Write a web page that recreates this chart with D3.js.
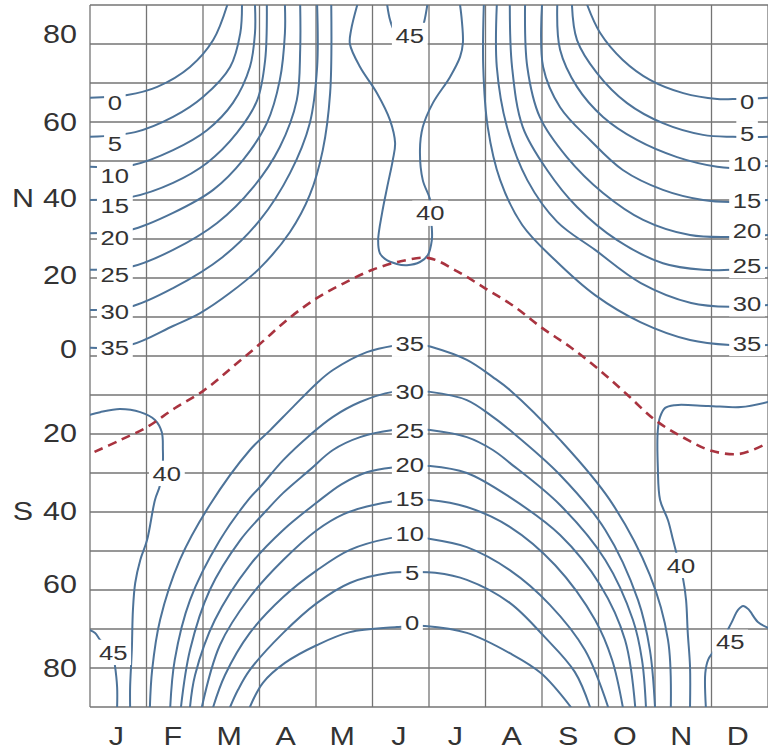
<!DOCTYPE html>
<html><head><meta charset="utf-8">
<script src="https://cdn.jsdelivr.net/npm/d3@7"></script>
<style>
html,body{margin:0;padding:0;background:#fff;}
svg{display:block;}
text{font-family:"Liberation Sans",Arial,Helvetica,sans-serif;fill:#333;}
</style></head><body>
<svg id="chart" width="768" height="752"></svg>
<script>
// ---------- data ----------
const months = ["J","F","M","A","M","J","J","A","S","O","N","D"];
const latTickLabels = ["80","60","40","20","0","20","40","60","80"];
const latTickPos = [82.6,59.9,40.5,20.8,1.8,-19.7,-39.7,-58.5,-80];   // where each label sits
const hemiLabels = ["N","S"];
const hemiLats = [40.5,-39.7];

// subsolar latitude (dashed line): month position -> latitude
const sunMonth = [0.08,0.5,1,1.5,2,2.5,3,3.5,4,4.5,5,5.5,6,6.5,7,7.5,8,8.5,9,9.5,10,10.5,11,11.5,12];
const sunLat   = [-24.6,-21.8,-18.3,-13.4,-9.0,-3.1,3.0,9.4,14.7,18.7,22.1,24.3,25.1,21.7,17.3,12.8,7.2,2.3,-3.4,-9.8,-16.4,-20.9,-24.3,-25.1,-22.3];

// contour lines, [month position, latitude]
const cN0L  = [[0,66.2],[0.66,66.9],[1.19,69.0],[1.77,74.1],[2.18,81.0],[2.43,90]];
const cN5L  = [[0,56.2],[0.80,57.4],[1.47,61.3],[2.0,66.4],[2.48,74.1],[2.66,82.8],[2.69,90]];
const cN10L = [[0,48.5],[0.76,49.0],[1.47,52.8],[2.07,57.9],[2.53,64.9],[2.83,74.1],[2.92,82.8],[2.92,90]];
const cN15L = [[0,40.0],[0.74,40.8],[1.47,44.4],[2.07,49.5],[2.60,57.2],[2.96,65.6],[3.10,75.9],[3.13,90]];
const cN20L = [[0,31.5],[0.71,32.3],[1.47,36.7],[2.18,42.6],[2.71,50.3],[3.13,59.7],[3.36,70.8],[3.45,82.8],[3.45,90]];
const cN25L = [[0,22.1],[0.71,22.8],[1.47,27.2],[2.25,34.1],[2.89,43.3],[3.36,53.6],[3.66,65.6],[3.72,78.5],[3.72,90]];
const cN30L = [[0,11.8],[0.71,12.6],[1.47,17.4],[2.35,25.4],[3.01,34.9],[3.54,46.9],[3.89,59.7],[4.02,74.1],[4.02,90]];
const cN35L = [[0,2.1],[0.71,2.8],[1.47,7.7],[1.95,11.0],[2.48,16.2],[3.01,22.6],[3.54,31.8],[3.89,41.3],[4.12,52.8],[4.25,67.4],[4.27,90]];

const cN0R  = [[8.80,90],[9.03,82.8],[9.43,75.9],[9.91,70.8],[10.50,67.4],[11.10,65.9],[11.38,65.9],[12,66.2]];
const cN5R  = [[8.53,90],[8.62,81.0],[8.97,72.6],[9.50,64.9],[10.14,59.7],[10.85,56.7],[11.38,56.2],[12,56.2]];
const cN10R = [[8.27,90],[8.32,78.5],[8.62,69.0],[9.08,61.3],[9.68,55.4],[10.39,51.0],[11.10,48.5],[11.33,48.2],[12,48.7]];
const cN15R = [[8.0,90],[8.02,74.1],[8.32,63.8],[8.85,55.4],[9.43,47.7],[10.14,42.6],[10.85,40.0],[11.33,39.5],[12,40.0]];
const cN20R = [[7.70,90],[7.74,74.1],[7.96,61.3],[8.44,51.0],[9.08,41.8],[9.79,34.9],[10.62,31.0],[11.33,30.5],[12,31.0]];
const cN25R = [[7.43,90],[7.47,74.1],[7.66,58.7],[8.09,47.7],[8.62,38.2],[9.33,29.7],[10.14,23.8],[10.85,22.1],[11.33,22.1],[12,22.6]];
const cN30R = [[7.20,90],[7.20,74.1],[7.38,58.7],[7.74,45.1],[8.27,34.4],[8.94,27.2],[9.75,18.7],[10.64,13.6],[11.33,12.6],[12,13.1]];
const cN35R = [[6.97,90],[6.96,74.1],[7.04,58.7],[7.26,45.1],[7.65,33.6],[8.23,24.6],[8.94,15.6],[9.74,8.7],[10.62,4.1],[11.33,2.8],[12,2.8]];

const cN40 = [[4.73,90],[4.62,83.5],[4.60,80.0],[4.78,74.1],[5.08,67.4],[5.31,60.5],[5.40,54.6],[5.36,50.3],[5.26,43.3],[5.17,36.7],[5.10,29.7],[5.13,26.4],[5.22,24.9],[5.43,23.6],[5.61,23.3],[5.84,24.1],[5.98,25.9],[6.05,29.7],[6.05,32.8],[6.02,36.7],[6.02,40.0],[5.89,45.1],[5.84,52.8],[5.89,58.7],[6.07,64.9],[6.37,71.5],[6.55,76.7],[6.60,80.3],[6.58,86.2],[6.55,90]];
const cN45 = [[5.26,90],[5.31,86.2],[5.38,83.6],[5.52,81.8],[5.66,81.3],[5.81,82.3],[5.89,84.4],[5.93,86.7],[5.97,90]];

const cS35 = [[1.06,-90],[1.10,-80.5],[1.24,-67.7],[1.59,-52.3],[2.12,-38.2],[2.83,-24.1],[3.19,-19.0],[3.59,-13.1],[4.02,-6.9],[4.30,-3.6],[4.90,1.0],[5.43,2.8],[5.74,3.3],[6.05,2.3],[6.67,-1.0],[7.13,-5.4],[7.43,-8.7],[8.32,-21.5],[9.20,-36.9],[9.91,-56.2],[10.23,-72.8],[10.28,-90]];
const cS30 = [[1.42,-90],[1.50,-77.9],[1.77,-62.6],[2.30,-47.2],[2.83,-36.4],[3.01,-33.6],[3.42,-26.7],[3.89,-20.3],[4.30,-15.6],[4.78,-11.8],[5.36,-9.2],[5.70,-9.0],[6.02,-9.2],[6.67,-11.3],[7.13,-15.6],[7.43,-19.0],[8.32,-30.5],[9.12,-44.6],[9.70,-62.6],[9.91,-75.4],[10.0,-90]];
const cS25 = [[1.61,-90],[1.77,-75.4],[2.12,-60.0],[2.66,-47.2],[3.13,-39.5],[3.42,-35.1],[3.89,-29.2],[4.30,-24.1],[4.78,-20.8],[5.36,-19.0],[5.70,-18.7],[6.02,-19.0],[6.67,-20.8],[7.13,-24.1],[7.43,-27.4],[8.32,-38.2],[9.12,-52.3],[9.61,-67.7],[9.77,-77.9],[9.84,-90]];
const cS20 = [[1.77,-90],[1.86,-81.8],[2.21,-67.7],[2.83,-53.6],[3.42,-44.6],[4.02,-37.5],[4.45,-32.9],[4.90,-29.8],[5.40,-28.5],[5.70,-28.2],[6.02,-28.2],[6.67,-30.0],[7.43,-36.2],[8.32,-45.9],[9.03,-58.7],[9.47,-72.8],[9.65,-90]];
const cS15 = [[1.98,-90],[2.30,-74.1],[2.83,-61.8],[3.42,-52.3],[4.02,-44.6],[4.48,-40.6],[4.90,-38.6],[5.40,-37.2],[5.70,-36.9],[6.02,-36.9],[6.67,-38.7],[7.43,-43.8],[8.23,-53.6],[8.94,-67.7],[9.24,-77.9],[9.43,-90]];
const cS10 = [[2.18,-90],[2.39,-81.8],[2.83,-71.0],[3.42,-61.8],[4.02,-54.9],[4.60,-49.7],[5.31,-46.7],[5.63,-46.2],[5.93,-46.7],[6.67,-49.0],[7.43,-54.9],[8.14,-63.8],[8.76,-75.4],[9.17,-90]];
const cS5  = [[2.48,-90],[2.62,-85.6],[2.83,-80.5],[3.42,-71.0],[4.02,-63.3],[4.60,-58.2],[5.31,-55.6],[5.70,-55.4],[6.11,-55.6],[6.67,-57.4],[7.43,-63.3],[8.05,-72.1],[8.58,-81.0],[8.85,-90]];
const cS0  = [[2.83,-90],[3.06,-83.8],[3.45,-78.7],[4.02,-74.1],[4.60,-70.8],[5.43,-69.5],[5.70,-69.2],[5.93,-69.2],[6.67,-71.0],[7.43,-76.2],[7.98,-81.3],[8.51,-90]];

const cS40L = [[0,-15.1],[0.18,-14.4],[0.53,-13.6],[0.89,-14.4],[1.15,-16.4],[1.27,-19.5],[1.29,-24.1],[1.29,-27.2],[1.24,-33.1],[1.15,-36.9],[1.01,-47.2],[0.89,-52.3],[0.80,-58.2],[0.76,-65.1],[0.74,-75.4],[0.71,-84.9],[0.71,-90]];
const cS40R = [[12,-11.8],[11.52,-13.1],[10.94,-12.8],[10.35,-12.6],[10.18,-13.3],[10.09,-15.6],[10.05,-19.0],[10.05,-28.5],[10.09,-36.9],[10.23,-42.1],[10.32,-47.2],[10.41,-52.3],[10.50,-57.4],[10.55,-62.6],[10.58,-71.0],[10.62,-79.7],[10.62,-90]];
const cS45L = [[0,-70.3],[0.09,-71.0],[0.18,-72.8],[0.32,-74.9],[0.41,-76.7],[0.44,-79.2],[0.48,-84.9],[0.48,-90]];
const cS45R = [[10.90,-90],[10.89,-81.3],[10.94,-77.9],[11.03,-75.9],[11.19,-72.8],[11.35,-68.5],[11.47,-65.1],[11.56,-64.1],[11.65,-64.9],[11.82,-68.2],[12,-69.7]];

// contour labels: text, month position, latitude
const labelText  = ["0","5","10","15","20","25","30","35",
                    "0","5","10","15","20","25","30","35",
                    "35","30","25","20","15","10","5","0",
                    "40","45","40","40","45","45"];
const labelMonth = [0.44,0.44,0.44,0.44,0.44,0.44,0.44,0.44,
                    11.63,11.63,11.63,11.63,11.63,11.63,11.63,11.63,
                    5.66,5.66,5.66,5.66,5.66,5.66,5.70,5.70,
                    6.02,5.66,1.36,10.46,0.41,11.33];
const labelLat   = [64.9,54.4,46.4,38.7,30.3,20.8,11.3,2.1,
                    65.2,57.1,49.4,40.0,32.3,23.3,13.5,3.3,
                    3.1,-9.2,-19.0,-27.7,-36.4,-45.6,-55.6,-68.2,
                    36.7,82.3,-30.0,-53.6,-75.9,-73.3];

const contours = [cN0L,cN5L,cN10L,cN15L,cN20L,cN25L,cN30L,cN35L,
                  cN0R,cN5R,cN10R,cN15R,cN20R,cN25R,cN30R,cN35R,
                  cN40,cN45,cS35,cS30,cS25,cS20,cS15,cS10,cS5,cS0,
                  cS40L,cS40R,cS45L,cS45R];

// ---------- drawing ----------
const pL = 90, pR = 768, pT = 5, pB = 707;
const x = d3.scaleLinear().domain([0,12]).range([pL,pR]);
const y = d3.scaleLinear().domain([90,-90]).range([pT,pB]);
const svg = d3.select("#chart");
const SX = 1.22; // horizontal text stretch seen in reference

svg.append("defs").append("clipPath").attr("id","plot")
  .append("rect").attr("x",pL).attr("y",pT).attr("width",pR-pL).attr("height",pB-pT);

const grid = svg.append("g").attr("stroke","#747474").attr("stroke-width",1.3).attr("fill","none");
grid.selectAll("line.v").data(d3.range(0,13)).join("line").attr("class","v")
  .attr("x1",d=>x(d)).attr("x2",d=>x(d)).attr("y1",pT).attr("y2",pB);
grid.selectAll("line.h").data(d3.range(-90,91,10)).join("line").attr("class","h")
  .attr("x1",pL).attr("x2",pR).attr("y1",d=>y(d)).attr("y2",d=>y(d));

const plot = svg.append("g").attr("clip-path","url(#plot)");
const line = d3.line().x(d=>x(d[0])).y(d=>y(d[1])).curve(d3.curveCatmullRom.alpha(0.5));

plot.append("g").selectAll("path").data(contours).join("path")
  .attr("d",line).attr("fill","none").attr("stroke","#4d7399").attr("stroke-width",2)
  .attr("stroke-linejoin","round").attr("stroke-linecap","round");

const sunPts = sunMonth.map((m,i)=>[m,sunLat[i]]);
plot.append("path").attr("d",line(sunPts)).attr("fill","none")
  .attr("stroke","#a9333f").attr("stroke-width",2.6).attr("stroke-dasharray","9,6");

// contour labels with white boxes
const lab = svg.append("g");
labelText.forEach((t,i)=>{
  const g = lab.append("g").attr("transform",`translate(${x(labelMonth[i])},${y(labelLat[i])}) scale(${SX},1)`);
  const r = g.append("rect").attr("fill","#fff");
  const tx = g.append("text").attr("text-anchor","middle").attr("dy","0.36em")
    .attr("font-size",21).text(t);
  const b = tx.node().getBBox();
  r.attr("x",b.x-3).attr("y",b.y-1).attr("width",b.width+6).attr("height",b.height+2);
});

// axis labels
const ax = svg.append("g");
latTickLabels.forEach((t,i)=>{
  ax.append("text").attr("transform",`translate(77,${y(latTickPos[i])}) scale(${SX},1)`)
    .attr("text-anchor","end").attr("dy","0.36em").attr("font-size",25).text(t);
});
hemiLabels.forEach((t,i)=>{
  ax.append("text").attr("transform",`translate(23,${y(hemiLats[i])}) scale(${SX},1)`)
    .attr("text-anchor","middle").attr("dy","0.36em").attr("font-size",25).text(t);
});
months.forEach((t,i)=>{
  ax.append("text").attr("transform",`translate(${x(i+0.5)-2},745) scale(${SX},1)`)
    .attr("text-anchor","middle").attr("font-size",25).text(t);
});
</script>
</body></html>
